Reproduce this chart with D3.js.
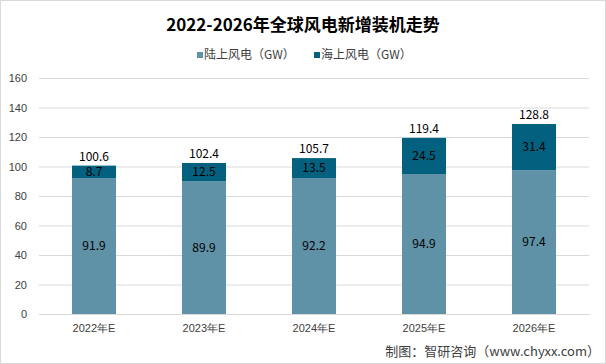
<!DOCTYPE html>
<html>
<head>
<meta charset="utf-8">
<script src="https://cdn.jsdelivr.net/npm/d3@7"></script>
<style>
  body { margin: 0; background: #fff; }
  svg { display: block; font-family: "Microsoft YaHei", "Noto Sans CJK SC", sans-serif; }
  .grid line { stroke: #d9d9d9; }
  .grid .domain { display: none; }
  .yaxis text, .xaxis text { fill: #404040; font-size: 11px; }
</style>
</head>
<body>
<div id="chart"></div>
<script>
function init(){

  var years = ["2022年E", "2023年E", "2024年E", "2025年E", "2026年E"];
  var onshore = [91.9, 89.9, 92.2, 94.9, 97.4];
  var offshore = [8.7, 12.5, 13.5, 24.5, 31.4];
  var totals = [100.6, 102.4, 105.7, 119.4, 128.8];
  var seriesNames = ["陆上风电（GW）", "海上风电（GW）"];
  var yTicks = [0, 20, 40, 60, 80, 100, 120, 140, 160];

  var colors = ["#5f91a7", "#03607f"];

  var W = 606, H = 364;
  var left = 39, right = 589, top = 78, bottom = 314;

  var svg = d3.select("#chart")
              .append("svg")
                .attr("width", W)
                .attr("height", H);

  //outer border
  svg.append("rect")
     .attr("x", 0.5).attr("y", 0.5)
     .attr("width", W - 1).attr("height", H - 1)
     .attr("fill", "#fff")
     .attr("stroke", "#d9d9d9");

  var xScale = d3.scaleBand()
       .domain(years)
       .range([left, right])
       .paddingInner(0.6)
       .paddingOuter(0.3);

  var yScale = d3.scaleLinear()
       .domain([0, 160])
       .range([bottom, top]);

  //grid lines
  svg.append("g")
     .attr("class", "grid")
     .attr("transform", "translate(" + left + ",0)")
     .call(d3.axisLeft(yScale).tickValues(yTicks).tickSize(-(right - left)).tickFormat(""));

  //y-axis labels
  svg.append("g")
     .attr("class", "yaxis")
     .attr("transform", "translate(" + left + ",0)")
     .call(d3.axisLeft(yScale).tickValues(yTicks).tickSize(0).tickPadding(12))
     .call(function(g){ g.select(".domain").remove(); })
     .selectAll("text").attr("text-anchor", "end").attr("dx", "0");

  //stacked data
  var rows = years.map(function(y, i){ return {year: y, a: onshore[i], b: offshore[i], total: totals[i]}; });
  var stack = d3.stack().keys(["a", "b"])(rows);

  var layers = svg.selectAll(".layer")
     .data(stack)
     .enter()
     .append("g")
       .attr("fill", function(d, i){ return colors[i]; });

  layers.selectAll("rect")
     .data(function(d){ return d; })
     .enter()
     .append("rect")
       .attr("x", function(d){ return xScale(d.data.year); })
       .attr("y", function(d){ return yScale(d[1]); })
       .attr("width", xScale.bandwidth())
       .attr("height", function(d){ return yScale(d[0]) - yScale(d[1]); });

  //segment labels
  layers.selectAll("text")
     .data(function(d, i){ return d.map(function(p){ return {p: p, v: i == 0 ? p.data.a : p.data.b}; }); })
     .enter()
     .append("text")
       .attr("x", function(d){ return xScale(d.p.data.year) + xScale.bandwidth() / 2; })
       .attr("y", function(d){ return (yScale(d.p[0]) + yScale(d.p[1])) / 2; })
       .attr("dy", "0.35em")
       .attr("text-anchor", "middle")
       .style("font-size", "12px")
       .style("fill", "#000")
       .text(function(d){ return d.v; });

  //total labels
  svg.selectAll(".total")
     .data(rows)
     .enter()
     .append("text")
       .attr("x", function(d){ return xScale(d.year) + xScale.bandwidth() / 2; })
       .attr("y", function(d){ return yScale(d.total) - 5; })
       .attr("text-anchor", "middle")
       .style("font-size", "12px")
       .style("fill", "#000")
       .text(function(d){ return d.total; });

  //x-axis labels
  svg.append("g")
     .attr("class", "xaxis")
     .attr("transform", "translate(0," + bottom + ")")
     .call(d3.axisBottom(xScale).tickSize(0).tickPadding(10))
     .call(function(g){ g.select(".domain").attr("stroke", "#d9d9d9"); });

  //title
  svg.append("text")
     .attr("x", W / 2)
     .attr("y", 31)
     .attr("text-anchor", "middle")
     .style("font-size", "17px")
     .style("font-weight", "bold")
     .style("fill", "#000")
     .text("2022-2026年全球风电新增装机走势");

  //legend
  var legendX = [197, 314];
  var legend = svg.selectAll(".legend")
     .data(seriesNames)
     .enter()
     .append("g")
       .attr("transform", function(d, i){ return "translate(" + legendX[i] + ",55)"; });

  legend.append("rect")
     .attr("y", -3)
     .attr("width", 6).attr("height", 6)
     .attr("fill", function(d, i){ return colors[i]; });

  legend.append("text")
     .attr("x", 7)
     .attr("dy", "0.35em")
     .style("font-size", "12px")
     .style("fill", "#404040")
     .text(function(d){ return d; });

  //source
  svg.append("text")
     .attr("x", 600)
     .attr("y", 356)
     .attr("text-anchor", "end")
     .style("font-size", "13px")
     .style("fill", "#404040")
     .text("制图：智研咨询（www.chyxx.com）");
}

window.onload = init;
</script>
</body>
</html>
